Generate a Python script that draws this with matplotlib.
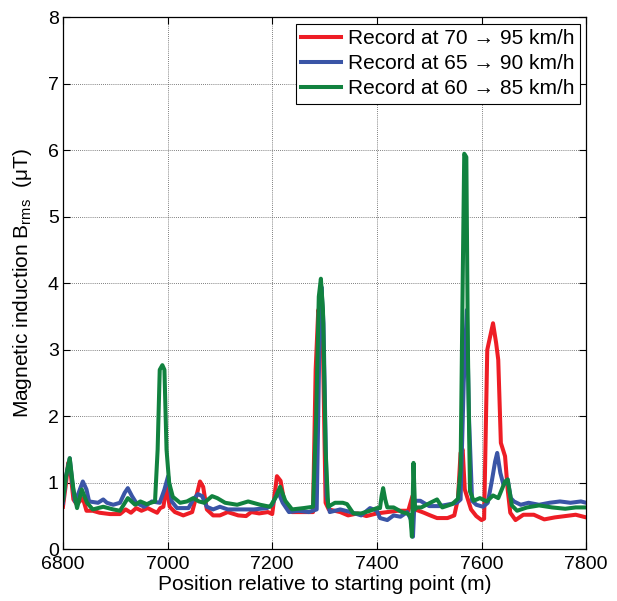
import matplotlib
matplotlib.use("Agg")
import matplotlib.pyplot as plt

plt.rcParams['font.family'] = ['Liberation Sans', 'DejaVu Sans']
plt.rcParams['mathtext.fontset'] = 'custom'
plt.rcParams['mathtext.rm'] = 'Liberation Sans'
plt.rcParams['mathtext.it'] = 'Liberation Sans:italic'

# ---- data ----
rx = [6800,6806,6810,6814,6820,6826,6832,6838,6845,6857,
      6870,6890,6909,6920,6930,6940,6950,6962,6972,6980,
      6986,6992,6998,7004,7014,7030,7047,7055,7062,7068,
      7075,7087,7100,7115,7135,7150,7160,7175,7192,7200,
      7209,7216,7224,7238,7260,7278,7283,7288,7292,7297,
      7302,7308,7330,7345,7363,7380,7400,7420,7440,7460,
      7468,7472,7480,7490,7502,7515,7535,7548,7555,7560,
      7564,7568,7580,7590,7600,7605,7611,7622,7628,7632,
      7637,7645,7650,7655,7665,7680,7700,7720,7740,7760,
      7780,7800]
ry = [0.64,1.0,1.3,1.2,0.75,0.68,0.72,0.77,0.58,0.58,
      0.55,0.53,0.53,0.6,0.55,0.62,0.58,0.62,0.58,0.55,
      0.62,0.64,0.95,0.64,0.56,0.51,0.56,0.8,1.02,0.94,
      0.6,0.51,0.51,0.56,0.51,0.5,0.56,0.54,0.56,0.53,
      1.1,1.03,0.67,0.56,0.56,0.56,2.7,3.6,3.5,3.0,
      0.7,0.6,0.56,0.51,0.54,0.5,0.54,0.56,0.58,0.58,
      0.8,0.6,0.58,0.55,0.51,0.47,0.47,0.51,0.76,1.45,
      1.5,0.9,0.6,0.5,0.44,0.46,3.0,3.4,3.1,2.85,
      1.6,1.4,0.9,0.55,0.44,0.52,0.52,0.45,0.48,0.5,
      0.52,0.48]

bx = [6800,6806,6813,6818,6823,6830,6838,6845,6850,6867,
      6877,6884,6896,6909,6918,6924,6932,6940,6955,6970,
      6985,6994,7001,7008,7018,7030,7040,7049,7058,7066,
      7075,7087,7100,7115,7140,7165,7190,7200,7211,7220,
      7232,7250,7270,7285,7290,7294,7298,7304,7310,7330,
      7350,7370,7387,7400,7406,7420,7432,7445,7458,7465,
      7469,7472,7483,7500,7520,7540,7553,7560,7566,7572,
      7576,7582,7590,7603,7612,7620,7626,7630,7636,7642,
      7650,7656,7662,7675,7690,7710,7730,7750,7770,7790,
      7800]
by = [0.7,1.1,1.37,1.0,0.72,0.85,1.02,0.9,0.72,0.7,
      0.75,0.7,0.67,0.7,0.85,0.92,0.8,0.7,0.64,0.72,
      0.7,0.9,1.1,0.72,0.62,0.62,0.62,0.75,0.83,0.8,
      0.64,0.6,0.64,0.6,0.6,0.6,0.62,0.67,0.87,0.7,
      0.56,0.58,0.56,0.6,3.0,3.95,3.4,0.8,0.56,0.6,
      0.56,0.51,0.62,0.58,0.47,0.44,0.51,0.49,0.56,0.45,
      0.19,0.73,0.73,0.65,0.65,0.68,0.7,0.75,2.5,3.6,
      2.0,0.73,0.67,0.64,0.7,1.04,1.32,1.45,1.15,0.97,
      1.05,0.77,0.72,0.67,0.7,0.67,0.7,0.72,0.7,0.72,
      0.7]

gx = [6800,6806,6813,6820,6827,6836,6846,6857,6877,6896,
      6909,6924,6938,6948,6960,6976,6981,6985,6990,6994,
      6998,7003,7010,7024,7037,7049,7060,7070,7085,7095,
      7110,7133,7154,7177,7196,7208,7215,7225,7238,7260,
      7278,7284,7289,7293,7297,7302,7307,7320,7335,7343,
      7355,7370,7387,7400,7406,7409,7412,7416,7420,7432,
      7448,7458,7464,7467,7470,7473,7476,7485,7502,7515,
      7525,7544,7555,7560,7564,7567,7571,7574,7578,7585,
      7597,7610,7622,7632,7645,7650,7658,7668,7687,7710,
      7735,7760,7780,7800]
gy = [0.74,1.1,1.37,0.9,0.62,0.9,0.7,0.6,0.64,0.6,
      0.58,0.77,0.67,0.72,0.68,0.72,1.5,2.7,2.77,2.7,
      1.5,1.0,0.79,0.7,0.72,0.77,0.72,0.7,0.8,0.77,
      0.7,0.67,0.72,0.67,0.64,0.8,0.94,0.73,0.6,0.62,
      0.64,2.0,3.8,4.07,3.6,1.5,0.64,0.7,0.7,0.68,
      0.54,0.54,0.58,0.62,0.62,0.8,0.92,0.75,0.63,0.63,
      0.56,0.54,0.5,0.19,1.3,0.6,0.63,0.63,0.7,0.75,
      0.63,0.68,0.76,1.2,4.0,5.95,5.9,3.0,0.87,0.73,
      0.77,0.72,0.81,0.77,1.02,1.05,0.66,0.58,0.63,0.66,
      0.63,0.61,0.63,0.63]

labels = ["Record at 70 \u2192 95 km/h",
          "Record at 65 \u2192 90 km/h",
          "Record at 60 \u2192 85 km/h"]
colors = ["#EE1D25", "#3A55A6", "#11823F"]
xticks = [6800, 7000, 7200, 7400, 7600, 7800]
yticks = [0, 1, 2, 3, 4, 5, 6, 7, 8]

# ---- figure ----
fig = plt.figure(figsize=(6.17, 6.01), dpi=100)
ax = fig.add_axes([0.102, 0.086, 0.848, 0.885])

for (x, y), lab, c in zip([(rx, ry), (bx, by), (gx, gy)], labels, colors):
    ax.plot(x, y, color=c, lw=2.9, label=lab, solid_joinstyle='round')

ax.set_xlim(6800, 7800)
ax.set_ylim(0, 8)
ax.set_xticks(xticks)
ax.set_yticks(yticks)
ax.grid(True, color='#555555', linestyle=(0, (1, 1.5)), linewidth=0.6)
ax.tick_params(direction='in', top=True, right=True, length=5, width=0.8,
               labelsize=14, pad=3)
ax.tick_params(axis='x', pad=5)
for s in ax.spines.values():
    s.set_linewidth(0.9)
    s.set_color('black')

ax.set_xlabel("Position relative to starting point (m)", fontsize=15, labelpad=1)
ax.set_ylabel("Magnetic induction B$_{\\mathrm{rms}}$  (\u03bcT)", fontsize=15, labelpad=10)

leg = ax.legend(loc='upper right', fontsize=15, frameon=True, fancybox=False,
                edgecolor='black', framealpha=1, handlelength=1.9,
                borderpad=0.25, labelspacing=0.3, handletextpad=0.35,
                borderaxespad=0.3)
leg.get_frame().set_linewidth(0.8)

fig.savefig("out.png", dpi=100)
